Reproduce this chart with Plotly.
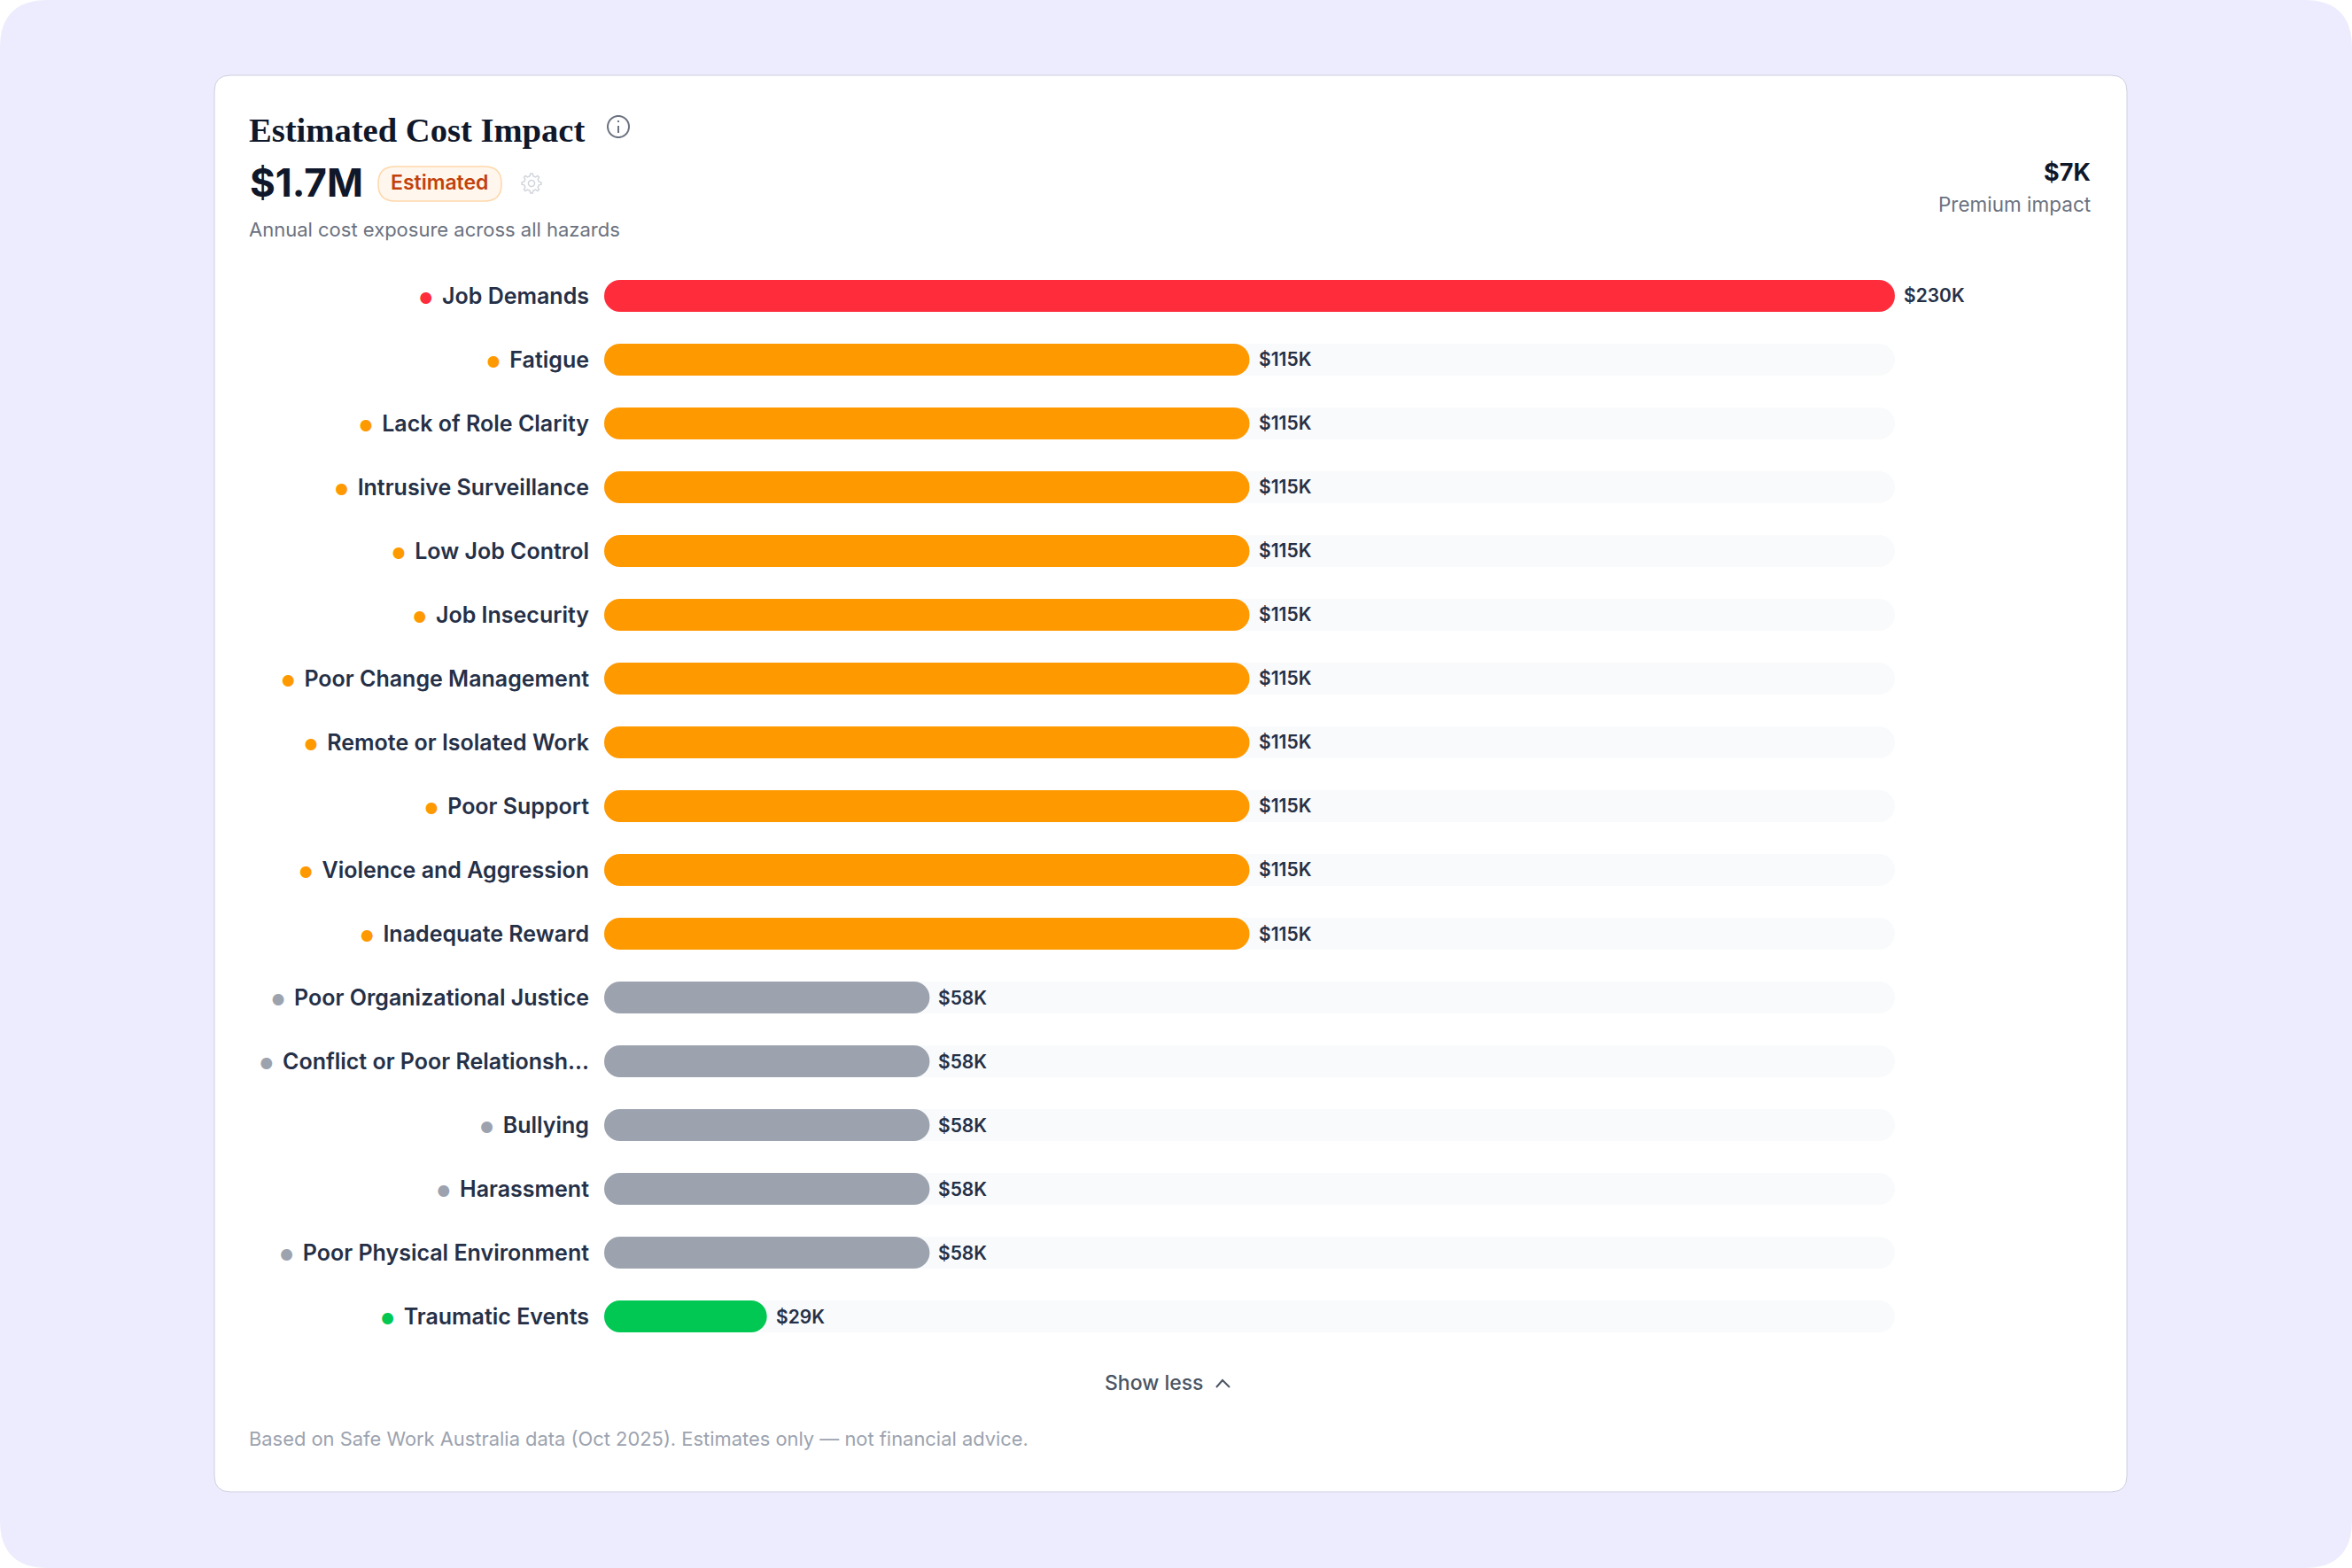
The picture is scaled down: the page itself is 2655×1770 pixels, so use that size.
import numpy as np
import plotly.graph_objects as go

W, H = 2655, 1770

# Hazard rows, top to bottom
hazards = [
    "Job Demands", "Fatigue", "Lack of Role Clarity", "Intrusive Surveillance",
    "Low Job Control", "Job Insecurity", "Poor Change Management",
    "Remote or Isolated Work", "Poor Support", "Violence and Aggression",
    "Inadequate Reward", "Poor Organizational Justice",
    "Conflict or Poor Relationsh...", "Bullying", "Harassment",
    "Poor Physical Environment", "Traumatic Events",
]
cost_k = [230, 115, 115, 115, 115, 115, 115, 115, 115, 115, 115,
          58, 58, 58, 58, 58, 29]
tiers = ["high"] + ["elevated"] * 10 + ["moderate"] * 5 + ["low"]
tier_colors = {"high": "#FF2D3C", "elevated": "#FF9900",
               "moderate": "#9CA3AF", "low": "#00C853"}
track_max = 230

INK = "#0F172A"
LABEL = "#253047"
MUTED = "#6B7280"
SANS = "Inter"
SERIF = "Liberation Serif"

colors = [tier_colors[t] for t in tiers]
labels = [f"${v}K" for v in cost_k]
ticktext = [
    f'<span style="color:{c};font-size:17px">●</span> \u2009{h}'
    for h, c in zip(hazards, colors)
]


def px_x(x):
    return x / W


def px_y(y):
    return 1 - y / H


def rounded_rect(x0, y0, x1, y1, r):
    a, b, c, d = px_x(x0), px_x(x1), px_y(y0), px_y(y1)
    rx, ry = r / W, r / H
    return (f"M{a + rx},{c} L{b - rx},{c} Q{b},{c} {b},{c - ry} "
            f"L{b},{d + ry} Q{b},{d} {b - rx},{d} "
            f"L{a + rx},{d} Q{a},{d} {a},{d + ry} "
            f"L{a},{c - ry} Q{a},{c} {a + rx},{c} Z")


def paper_shape(path, fill="rgba(0,0,0,0)", line="rgba(0,0,0,0)", width=0):
    return dict(type="path", xref="paper", yref="paper", path=path,
                fillcolor=fill, line=dict(color=line, width=width), layer="below")


def circle_path(cx, cy, r, n=48):
    t = np.linspace(0, 2 * np.pi, n, endpoint=False)
    pts = [f"{px_x(cx + r * np.cos(a))},{px_y(cy + r * np.sin(a))}" for a in t]
    return "M" + " L".join(pts) + " Z"


def gear_path(cx, cy, r_out, r_in, teeth=8):
    pts = []
    for i in range(teeth):
        base = 2 * np.pi * i / teeth
        step = 2 * np.pi / teeth
        for frac, r in [(-0.28, r_in), (-0.14, r_out), (0.14, r_out), (0.28, r_in)]:
            a = base + frac * step
            pts.append(f"{px_x(cx + r * np.cos(a))},{px_y(cy + r * np.sin(a))}")
    return "M" + " L".join(pts) + " Z"


def polyline(points):
    return "M" + " L".join(f"{px_x(x)},{px_y(y)}" for x, y in points)


def text(s, x, y, size, color, anchor="left", weight=400, family=SANS):
    return dict(text=s, x=px_x(x), y=px_y(y), xref="paper", yref="paper",
                xanchor=anchor, yanchor="middle", showarrow=False,
                font=dict(family=family, size=size, color=color, weight=weight))


fig = go.Figure()

# An explicit base makes Plotly round both ends of a bar, giving pill shapes.
# Pale track behind every row first, then the cost bars on top.
fig.add_trace(go.Bar(
    x=[track_max] * len(hazards), base=[0] * len(hazards), y=hazards, orientation="h",
    marker=dict(color="#F9FAFB", cornerradius=18, line=dict(width=0)),
    hoverinfo="skip", showlegend=False,
))
fig.add_trace(go.Bar(
    x=cost_k, base=[0] * len(hazards), y=hazards, orientation="h",
    marker=dict(color=colors, cornerradius=18, line=dict(width=0)),
    hovertemplate="%{y}: $%{x}K<extra></extra>", showlegend=False,
))

shapes = [
    paper_shape(rounded_rect(0, 0, W, H, 54), fill="#EDECFE"),
    paper_shape(rounded_rect(242, 85, 2401, 1684, 18), fill="#FFFFFF",
                line="#CDCFDF", width=1),
    paper_shape(rounded_rect(427, 188, 566, 227, 19), fill="#FFF7ED",
                line="#FED7AA", width=1.5),
    paper_shape(circle_path(698, 143, 12), line="#6B7280", width=2),
    paper_shape(polyline([(698, 142), (698, 150)]), line="#6B7280", width=2),
    paper_shape(polyline([(698, 136), (698, 138)]), line="#6B7280", width=2),
    paper_shape(gear_path(600, 207, 11, 8.5), line="#D1D5DB", width=1.5),
    paper_shape(circle_path(600, 207, 3.5), line="#D1D5DB", width=1.5),
    paper_shape(polyline([(1373, 1566), (1380, 1558), (1388, 1566)]),
                line="#4B5563", width=2),
]

annotations = [
    text("Estimated Cost Impact", 279, 147, 38.6, INK, weight=700, family=SERIF),
    text("$1.7M", 280, 206, 44, INK, weight=700),
    text("Estimated", 496, 206, 23, "#C2410C", anchor="center", weight=600),
    text("Annual cost exposure across all hazards", 279, 259, 22, MUTED),
    text("$7K", 2362, 194, 27, INK, anchor="right", weight=700),
    text("Premium impact", 2362, 230, 22.5, MUTED, anchor="right"),
    text("Show less", 1303, 1561, 23, "#4B5563", anchor="center", weight=500),
    text("Based on Safe Work Australia data (Oct 2025). Estimates only — not financial advice.",
         279, 1624, 21.9, "#9CA3AF"),
]

# Dollar labels sit just past the end of each bar
for h, v, lab in zip(hazards, cost_k, labels):
    annotations.append(dict(
        text=lab, x=v, y=h, xref="x", yref="y", xanchor="left", yanchor="middle",
        xshift=8, yshift=0, showarrow=False,
        font=dict(family=SANS, size=21, color=LABEL, weight=600),
    ))

fig.update_layout(
    width=W, height=H,
    margin=dict(l=0, r=0, t=0, b=0),
    paper_bgcolor="#FFFFFF", plot_bgcolor="rgba(0,0,0,0)",
    barmode="overlay", bargap=0.5,
    shapes=shapes, annotations=annotations,
    xaxis=dict(domain=[682 / W, 2139 / W], range=[0, track_max], visible=False,
               showgrid=False, zeroline=False),
    yaxis=dict(domain=[1 - 1522 / H, 1 - 298 / H], type="category",
               categoryorder="array", categoryarray=hazards, autorange="reversed",
               tickmode="array", tickvals=hazards, ticktext=ticktext,
               ticks="", ticklabelstandoff=16, showgrid=False, zeroline=False,
               showline=False, automargin=False,
               tickfont=dict(family=SANS, size=25, color=LABEL, weight=600)),
)

fig.write_html("out.html")
